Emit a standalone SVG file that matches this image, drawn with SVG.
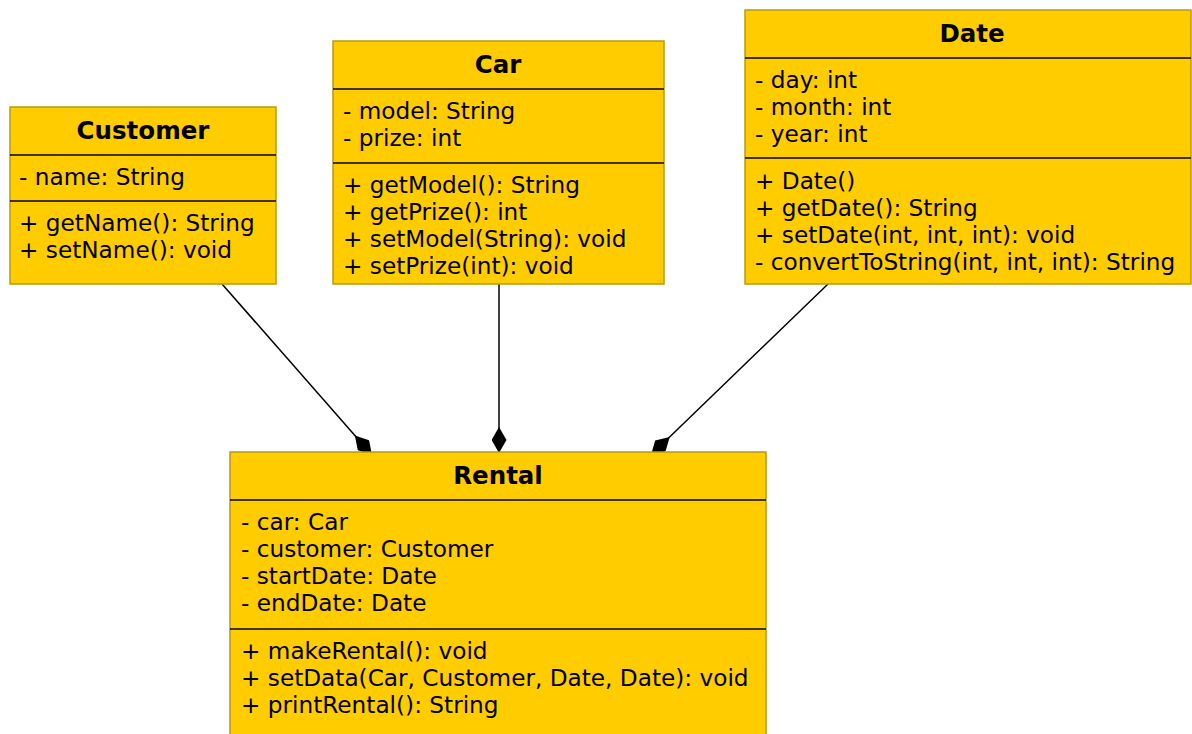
<svg xmlns="http://www.w3.org/2000/svg" width="1192" height="734" viewBox="0 0 1192 734">
  <style>
    .box { fill: #ffcc00; stroke: #b89a10; stroke-width: 1.5; }
    .sep { stroke: #000; stroke-width: 1.5; }
    .title { font-family: "DejaVu Sans", sans-serif; font-weight: bold; font-size: 24.5px; fill: #000; text-anchor: middle; }
    .txt { font-family: "DejaVu Sans", sans-serif; font-size: 23.2px; fill: #000; }
    .conn { stroke: #000; stroke-width: 1.5; fill: none; }
  </style>
  <defs>
    <marker id="diamond" viewBox="0 0 26 15" refX="26" refY="7.5" markerWidth="26" markerHeight="15" markerUnits="userSpaceOnUse" orient="auto">
      <path d="M0,7.5 L13,0 L26,7.5 L13,15 Z" fill="#000"/>
    </marker>
  </defs>
  <rect width="1192" height="734" fill="#fff"/>

  <!-- composition connectors, diamonds at the Rental end -->
  <g id="connectors">
    <line class="conn" x1="222" y1="284" x2="372" y2="455" marker-end="url(#diamond)"/>
    <line class="conn" x1="499" y1="284" x2="499" y2="453" marker-end="url(#diamond)"/>
    <line class="conn" x1="828" y1="284" x2="651" y2="455" marker-end="url(#diamond)"/>
  </g>

  <g id="customer">
    <rect class="box" x="10" y="107" width="266" height="177"/>
    <line class="sep" x1="10" y1="155" x2="276" y2="155"/>
    <line class="sep" x1="10" y1="201" x2="276" y2="201"/>
    <text class="title" x="143" y="139">Customer</text>
    <text class="txt" x="19" y="185">- name: String</text>
    <text class="txt" x="19" y="231">+ getName(): String</text>
    <text class="txt" x="19" y="258">+ setName(): void</text>
  </g>

  <g id="car">
    <rect class="box" x="333" y="41" width="331" height="243"/>
    <line class="sep" x1="333" y1="89" x2="664" y2="89"/>
    <line class="sep" x1="333" y1="163" x2="664" y2="163"/>
    <text class="title" x="498" y="73">Car</text>
    <text class="txt" x="343" y="119">- model: String</text>
    <text class="txt" x="343" y="146">- prize: int</text>
    <text class="txt" x="343" y="193">+ getModel(): String</text>
    <text class="txt" x="343" y="220">+ getPrize(): int</text>
    <text class="txt" x="343" y="247">+ setModel(String): void</text>
    <text class="txt" x="343" y="274">+ setPrize(int): void</text>
  </g>

  <g id="date">
    <rect class="box" x="745" y="10" width="446" height="274"/>
    <line class="sep" x1="745" y1="58" x2="1191" y2="58"/>
    <line class="sep" x1="745" y1="158" x2="1191" y2="158"/>
    <text class="title" x="972" y="42">Date</text>
    <text class="txt" x="755" y="88">- day: int</text>
    <text class="txt" x="755" y="115">- month: int</text>
    <text class="txt" x="755" y="142">- year: int</text>
    <text class="txt" x="755" y="189">+ Date()</text>
    <text class="txt" x="755" y="216">+ getDate(): String</text>
    <text class="txt" x="755" y="243">+ setDate(int, int, int): void</text>
    <text class="txt" x="755" y="270">- convertToString(int, int, int): String</text>
  </g>

  <g id="rental">
    <rect class="box" x="230" y="452" width="536" height="290"/>
    <line class="sep" x1="230" y1="500" x2="766" y2="500"/>
    <line class="sep" x1="230" y1="629" x2="766" y2="629"/>
    <text class="title" x="498" y="484">Rental</text>
    <text class="txt" x="241" y="530">- car: Car</text>
    <text class="txt" x="241" y="557">- customer: Customer</text>
    <text class="txt" x="241" y="584">- startDate: Date</text>
    <text class="txt" x="241" y="611">- endDate: Date</text>
    <text class="txt" x="241" y="659">+ makeRental(): void</text>
    <text class="txt" x="241" y="686">+ setData(Car, Customer, Date, Date): void</text>
    <text class="txt" x="241" y="713">+ printRental(): String</text>
  </g>
</svg>
